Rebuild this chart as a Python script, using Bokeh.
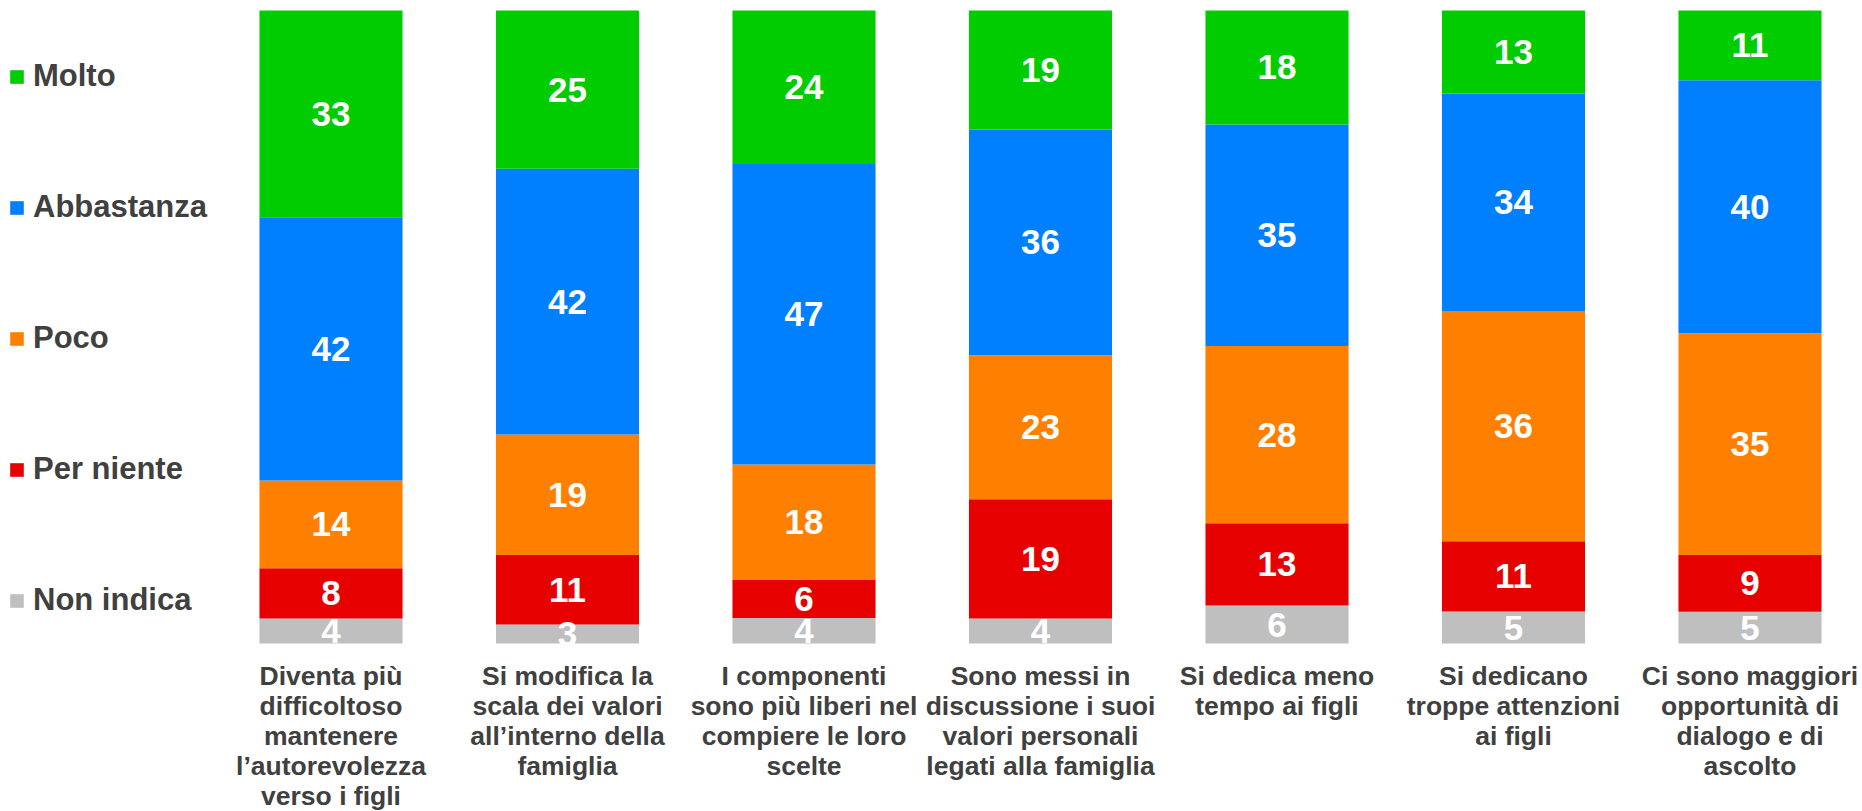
from bokeh.plotting import figure
from bokeh.models import Range1d, ColumnDataSource, Legend, LegendItem
from bokeh.core.properties import value
from bokeh.embed import file_html
from bokeh.resources import INLINE

# ---------------- data ----------------
categories = [
    "Diventa più\ndifficoltoso\nmantenere\nl\u2019autorevolezza\nverso i figli",
    "Si modifica la\nscala dei valori\nall\u2019interno della\nfamiglia",
    "I componenti\nsono più liberi nel\ncompiere le loro\nscelte",
    "Sono messi in\ndiscussione i suoi\nvalori personali\nlegati alla famiglia",
    "Si dedica meno\ntempo ai figli",
    "Si dedicano\ntroppe attenzioni\nai figli",
    "Ci sono maggiori\nopportunità di\ndialogo e di\nascolto",
]
series = ["Non indica", "Per niente", "Poco", "Abbastanza", "Molto"]
non_indica = [4, 3, 4, 4, 6, 5, 5]
per_niente = [8, 11, 6, 19, 13, 11, 9]
poco = [14, 19, 18, 23, 28, 36, 35]
abbastanza = [42, 42, 47, 36, 35, 34, 40]
molto = [33, 25, 24, 19, 18, 13, 11]
colors = ["#BFBFBF", "#E60000", "#FF8000", "#0080FF", "#00CC00"]

values = [non_indica, per_niente, poco, abbastanza, molto]

# ---------------- 100% stacked shares ----------------
n = len(categories)
xs = list(range(n))
totals = [sum(v[i] for v in values) for i in range(n)]
data = {"x": xs}
for name, vals in zip(series, values):
    data[name] = [vals[i] / totals[i] * 100 for i in range(n)]
source = ColumnDataSource(data)

lab_x, lab_y, lab_t = [], [], []
for i in range(n):
    base = 0.0
    for name, vals in zip(series, values):
        share = data[name][i]
        lab_x.append(i)
        lab_y.append(base + share / 2)
        lab_t.append(str(vals[i]))
        base += share
labels = ColumnDataSource(dict(x=lab_x, y=lab_y, t=lab_t))

# ---------------- figure ----------------
p = figure(
    width=1858, height=811,
    x_range=Range1d(-1.3975, 6.4588),
    y_range=Range1d(-26.54, 101.58),
    toolbar_location=None, output_backend="svg",
    min_border=0, x_axis_location=None, y_axis_location=None,
)
p.grid.visible = False
p.outline_line_color = None
p.background_fill_color = "white"
p.border_fill_color = "white"

rends = p.vbar_stack(series, x="x", width=0.605, color=colors,
                     line_color=None, source=source)

p.text(x="x", y="y", text="t", source=labels,
       text_color="white", text_font=value("Liberation Sans"),
       text_font_style="bold", text_font_size="35px",
       text_align="center", text_baseline="middle")

p.text(x=xs, y=[-2.7] * n, text=categories,
       text_color="#404040", text_font=value("Liberation Sans"),
       text_font_style="bold", text_font_size="26.5px",
       text_align="center", text_baseline="top", text_line_height=1.0)

items = [LegendItem(label=s, renderers=[r]) for s, r in zip(series, rends)][::-1]
legend = Legend(
    items=items, location=(8, 193),
    border_line_color=None, background_fill_alpha=0,
    padding=0, margin=0, spacing=95,
    glyph_width=17, glyph_height=17, label_standoff=8, label_height=36,
    label_text_font="Liberation Sans", label_text_font_style="bold",
    label_text_font_size="31px", label_text_color="#404040",
)
p.add_layout(legend, "center")

open("out.html", "w").write(file_html(p, INLINE))
